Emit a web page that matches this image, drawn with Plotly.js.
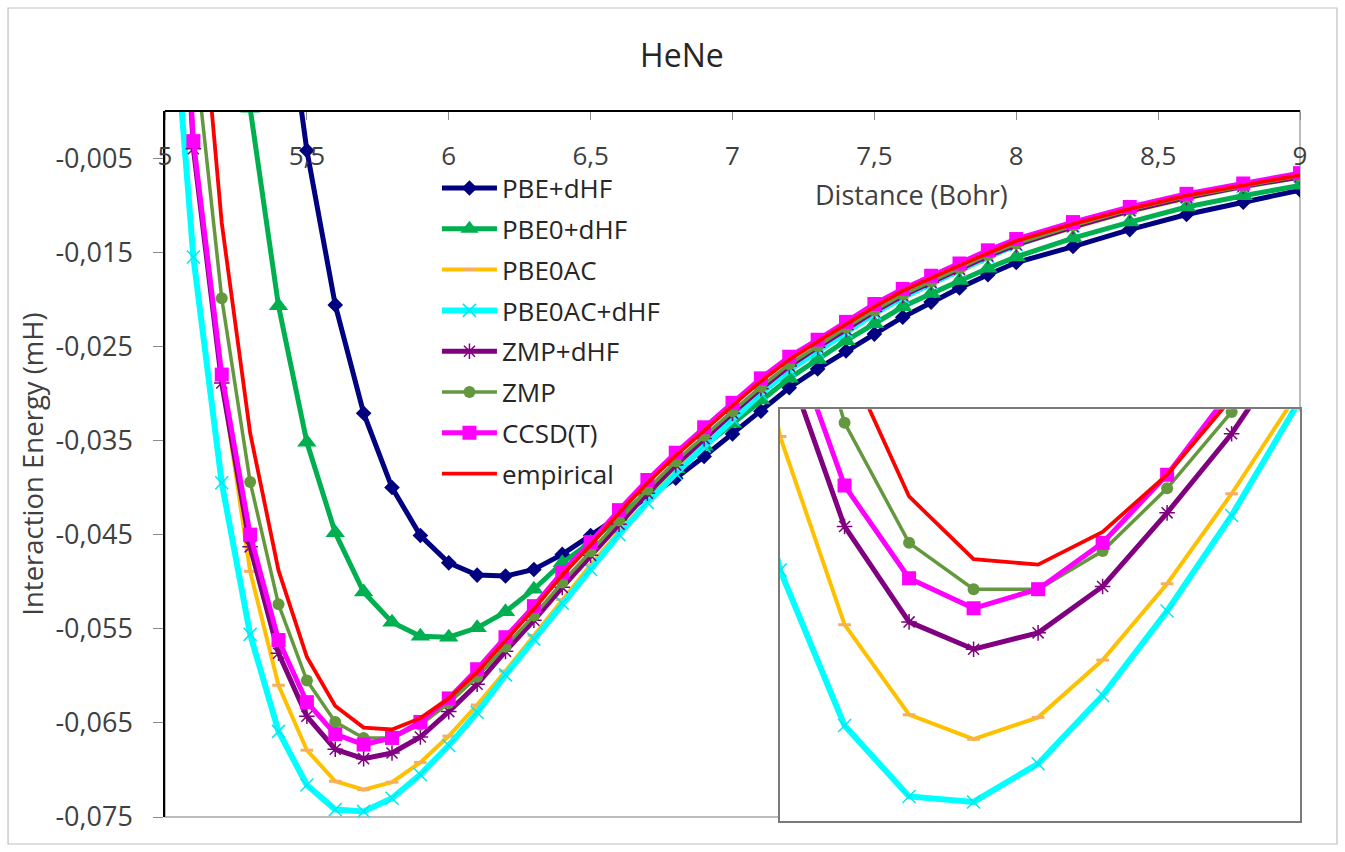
<!DOCTYPE html>
<html>
<head>
<meta charset="utf-8">
<script src="https://cdn.plot.ly/plotly-3.0.1.min.js"></script>
<style>
  html, body { margin: 0; padding: 0; background: #ffffff; }
  #chart { width: 1345px; height: 852px; }
</style>
</head>
<body>
<div id="chart"></div>
<script>
// ---------------- data ----------------
const distance = [5.0, 5.1, 5.2, 5.3, 5.4, 5.5, 5.6, 5.7, 5.8, 5.9,
                  6.0, 6.1, 6.2, 6.3, 6.4, 6.5, 6.6, 6.7, 6.8, 6.9,
                  7.0, 7.1, 7.2, 7.3, 7.4, 7.5, 7.6, 7.7, 7.8, 7.9,
                  8.0, 8.2, 8.4, 8.6, 8.8, 9.0];

const pbeDhf = [null, null, null, null, 0.018, -0.0042, -0.0206, -0.0321, -0.0400, -0.0451,
                -0.0480, -0.0493, -0.0494, -0.0487, -0.0471, -0.0451, -0.0431, -0.0411, -0.0390, -0.0367,
                -0.0343, -0.0319, -0.0294, -0.0274, -0.0255, -0.0237, -0.0219, -0.0203, -0.0188, -0.0174,
                -0.0161, -0.0144, -0.0126, -0.0110, -0.0097, -0.0084];

const pbe0Dhf = [null, null, null, 0.0003, -0.0207, -0.0352, -0.0448, -0.0511, -0.0543, -0.0558,
                 -0.0559, -0.0549, -0.0532, -0.0508, -0.0480, -0.0458, -0.0431, -0.0405, -0.0380, -0.0356,
                 -0.0332, -0.0307, -0.0284, -0.0264, -0.0244, -0.0226, -0.0208, -0.0194, -0.0180, -0.0167,
                 -0.0155, -0.0135, -0.0118, -0.0102, -0.0090, -0.0079];

const pbe0ac = [0.050, -0.0030, -0.0285, -0.0489, -0.0610, -0.0679, -0.0712, -0.0721, -0.0713, -0.0692,
                -0.0664, -0.0631, -0.0595, -0.0557, -0.0519, -0.0482, -0.0447, -0.0414, -0.0382, -0.0353,
                -0.0325, -0.0298, -0.0274, -0.0254, -0.0234, -0.0215, -0.0198, -0.0184, -0.0170, -0.0156,
                -0.0143, -0.0124, -0.0107, -0.0093, -0.0081, -0.0071];

const pbe0acDhf = [0.0224, -0.0155, -0.0395, -0.0556, -0.0659, -0.0716, -0.0742, -0.0744, -0.0730, -0.0705,
                   -0.0674, -0.0639, -0.0599, -0.0561, -0.0523, -0.0487, -0.0450, -0.0416, -0.0385, -0.0356,
                   -0.0327, -0.0300, -0.0275, -0.0255, -0.0234, -0.0215, -0.0198, -0.0183, -0.0169, -0.0155,
                   -0.0142, -0.0122, -0.0105, -0.0091, -0.0080, -0.0069];

const zmpDhf = [0.048, -0.0040, -0.0289, -0.0463, -0.0576, -0.0643, -0.0678, -0.0688, -0.0682, -0.0665,
                -0.0638, -0.0609, -0.0574, -0.0541, -0.0506, -0.0472, -0.0439, -0.0406, -0.0376, -0.0348,
                -0.0321, -0.0295, -0.0271, -0.0251, -0.0232, -0.0213, -0.0196, -0.0182, -0.0168, -0.0154,
                -0.0142, -0.0123, -0.0106, -0.0092, -0.0080, -0.0070];

const zmp = [null, 0.0080, -0.0199, -0.0394, -0.0524, -0.0605, -0.0649, -0.0666, -0.0666, -0.0652,
             -0.0629, -0.0601, -0.0569, -0.0536, -0.0501, -0.0468, -0.0435, -0.0402, -0.0372, -0.0345,
             -0.0319, -0.0293, -0.0269, -0.0250, -0.0230, -0.0212, -0.0195, -0.0181, -0.0167, -0.0153,
             -0.0141, -0.0122, -0.0105, -0.0091, -0.0080, -0.0069];

const ccsdT = [0.050, -0.0032, -0.0280, -0.0450, -0.0562, -0.0628, -0.0662, -0.0673, -0.0666, -0.0649,
               -0.0624, -0.0593, -0.0559, -0.0526, -0.0490, -0.0458, -0.0424, -0.0392, -0.0363, -0.0336,
               -0.0310, -0.0284, -0.0261, -0.0243, -0.0224, -0.0205, -0.0189, -0.0175, -0.0162, -0.0148,
               -0.0136, -0.0118, -0.0102, -0.0088, -0.0077, -0.0066];

const empirical = [null, 0.022, -0.0119, -0.0342, -0.0488, -0.0580, -0.0632, -0.0655, -0.0657, -0.0645,
                   -0.0624, -0.0596, -0.0562, -0.0529, -0.0493, -0.0461, -0.0427, -0.0395, -0.0366, -0.0339,
                   -0.0313, -0.0287, -0.0264, -0.0245, -0.0226, -0.0208, -0.0191, -0.0177, -0.0164, -0.0151,
                   -0.0138, -0.0120, -0.0104, -0.0090, -0.0079, -0.0068];

const seriesNames = ['PBE+dHF', 'PBE0+dHF', 'PBE0AC', 'PBE0AC+dHF', 'ZMP+dHF', 'ZMP', 'CCSD(T)', 'empirical'];
const seriesValues = [pbeDhf, pbe0Dhf, pbe0ac, pbe0acDhf, zmpDhf, zmp, ccsdT, empirical];

const xTickVals = [5, 5.5, 6, 6.5, 7, 7.5, 8, 8.5, 9];
const xTickText = ['5', '5,5', '6', '6,5', '7', '7,5', '8', '8,5', '9'];
const yTickVals = [-0.075, -0.065, -0.055, -0.045, -0.035, -0.025, -0.015, -0.005];
const yTickText = ['-0,075', '-0,065', '-0,055', '-0,045', '-0,035', '-0,025', '-0,015', '-0,005'];

const chartTitle = 'HeNe';
const xTitle = 'Distance (Bohr)';
const yTitle = 'Interaction Energy (mH)';

// ---------------- styles ----------------
const styles = [
  {color: '#000080', width: 5, symbol: 'diamond', size: 12, mcolor: '#000080', mlw: 0},
  {color: '#00B050', width: 5, symbol: 'triangle-up', size: 17, mcolor: '#00B050', mlw: 0},
  {color: '#FFC000', width: 4, symbol: 'line-ew', size: 9, mcolor: '#F4B060', mlw: 3},
  {color: '#00FFFF', width: 6, symbol: 'x-thin', size: 13, mcolor: '#00E8F0', mlw: 1.5},
  {color: '#800080', width: 5, symbol: 'asterisk', size: 13, mcolor: '#800080', mlw: 1.5},
  {color: '#64983F', width: 3.5, symbol: 'circle', size: 12, mcolor: '#64983F', mlw: 0},
  {color: '#FF00FF', width: 5, symbol: 'square', size: 14, mcolor: '#FF00FF', mlw: 0},
  {color: '#FF0000', width: 3.8, symbol: null, size: 0, mcolor: '#FF0000', mlw: 0}
];

const FONT = '"Open Sans", "Noto Sans", sans-serif';
const TXT = '#404040';

function makeTrace(i, inset) {
  const s = styles[i];
  const t = {
    type: 'scatter',
    x: distance,
    y: seriesValues[i],
    name: seriesNames[i],
    legendgroup: 'g' + i,
    showlegend: !inset,
    mode: s.symbol ? 'lines+markers' : 'lines',
    line: {color: s.color, width: s.width},
    xaxis: inset ? 'x2' : 'x',
    yaxis: inset ? 'y2' : 'y',
    connectgaps: false,
    hoverinfo: 'x+y+name'
  };
  if (s.symbol) {
    t.marker = {symbol: s.symbol, size: s.size, color: s.mcolor,
                line: {color: s.mcolor, width: s.mlw}};
  }
  return t;
}

const traces = [];
for (let i = 0; i < seriesNames.length; i++) traces.push(makeTrace(i, false));
for (let i = 0; i < seriesNames.length; i++) traces.push(makeTrace(i, true));

// plot area: x 165..1300, y 111..821 (main y axis bottom at 817, inset bottom at 821)
const layout = {
  width: 1345,
  height: 852,
  margin: {l: 165, r: 45, t: 111, b: 31, pad: 0},
  paper_bgcolor: '#ffffff',
  plot_bgcolor: '#ffffff',
  font: {family: FONT, color: TXT, size: 24},
  showlegend: true,
  title: {
    text: chartTitle,
    font: {family: FONT, size: 32, color: '#262626'},
    x: 0.507, xanchor: 'center',
    y: 0.935, yanchor: 'middle'
  },
  xaxis: {
    range: [5, 9],
    anchor: 'free',
    position: 1,
    side: 'bottom',
    showline: true, linecolor: '#000000', linewidth: 1.5,
    ticks: 'outside', ticklen: 8, tickcolor: '#8c8c8c', tickwidth: 1.3,
    tickmode: 'array', tickvals: xTickVals, ticktext: xTickText,
    tickfont: {family: FONT, size: 26, color: TXT},
    ticklabelstandoff: 14,
    showgrid: false, zeroline: false
  },
  yaxis: {
    range: [-0.075, 0],
    domain: [0.0056, 1],
    anchor: 'x',
    showline: true, linecolor: '#000000', linewidth: 1.5,
    ticks: 'outside', ticklen: 10, tickcolor: '#8c8c8c', tickwidth: 1.3,
    tickmode: 'array', tickvals: yTickVals, ticktext: yTickText,
    tickfont: {family: FONT, size: 27, color: TXT},
    ticklabelstandoff: 15,
    title: {text: yTitle, font: {family: FONT, size: 27.5, color: TXT}, standoff: 4},
    showgrid: false, zeroline: false
  },
  xaxis2: {
    domain: [0.5419, 1],
    range: [5.40, 6.206],
    anchor: 'y2',
    showline: true, mirror: true, linecolor: '#7a7a7a', linewidth: 1.5,
    ticks: '', showticklabels: false, showgrid: false, zeroline: false
  },
  yaxis2: {
    domain: [0, 0.580],
    range: [-0.0751, -0.0600],
    anchor: 'x2',
    showline: true, mirror: true, linecolor: '#7a7a7a', linewidth: 1.5,
    ticks: '', showticklabels: false, showgrid: false, zeroline: false
  },
  legend: {
    x: 0.2396, y: 0.9245, xanchor: 'left', yanchor: 'top',
    bgcolor: 'rgba(0,0,0,0)', borderwidth: 0,
    font: {family: FONT, size: 26, color: '#262626'},
    itemwidth: 55,
    traceorder: 'grouped',
    tracegroupgap: 4
  },
  annotations: [
    {text: xTitle, xref: 'paper', yref: 'paper', x: 0.658, y: 0.8817,
     xanchor: 'center', yanchor: 'middle', showarrow: false,
     font: {family: FONT, size: 27, color: TXT}}
  ],
  shapes: [
    // grey frame of the main plot area (right and bottom edges)
    {type: 'rect', xref: 'x domain', yref: 'y domain', x0: 0, x1: 1, y0: 0, y1: 1,
     line: {color: '#a6a6a6', width: 1.5}, layer: 'below'},
    // outer chart border
    {type: 'rect', xref: 'paper', yref: 'paper', x0: -0.1383, x1: 1.0326, y0: -0.0324, y1: 1.1451,
     line: {color: '#bfbfbf', width: 1.2}, layer: 'below'}
  ],
  hovermode: 'closest'
};

Plotly.newPlot('chart', traces, layout, {displayModeBar: false, staticPlot: false});
</script>
</body>
</html>
